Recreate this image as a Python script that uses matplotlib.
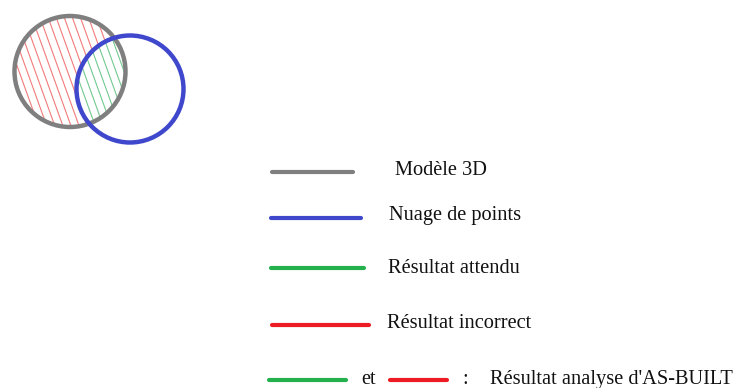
import numpy as np
import matplotlib.pyplot as plt
from matplotlib.patches import Circle

# legende
labels = ['Modèle 3D', 'Nuage de points', 'Résultat attendu', 'Résultat incorrect']
colors = ['#7f7f7f', '#3f48cc', '#22b14c', '#ed1c24']
last_parts = ['et', ':', "Résultat analyse d'AS-BUILT"]

plt.rcParams['font.family'] = ['Liberation Serif', 'DejaVu Serif']

fig = plt.figure(figsize=(7.37, 3.88), dpi=100)
ax = fig.add_axes([0, 0, 1, 1])
ax.set_xlim(0, 737)
ax.set_ylim(388, 0)
ax.axis('off')

# cercles (modele gris, nuage bleu)
c1, r1 = np.array([70.0, 71.5]), 55.5
c2, r2 = np.array([130.0, 89.0]), 53.5

# hachures : rouge dans le modele, vert dans l'intersection
d = np.array([0.36, 1.0])
d = d / np.linalg.norm(d)
n = np.array([d[1], -d[0]])
for off in np.arange(-r1, r1, 7.6):
    p0 = c1 + n * off
    # intersection droite / cercle gris
    b = np.dot(p0 - c1, d)
    cc = np.dot(p0 - c1, p0 - c1) - r1 ** 2
    disc = b * b - cc
    if disc <= 0:
        continue
    t = np.linspace(-b - np.sqrt(disc), -b + np.sqrt(disc), 200)
    pts = p0[None, :] + t[:, None] * d[None, :]
    inside = np.linalg.norm(pts - c2, axis=1) < r2
    red = np.where(inside, np.nan, pts[:, 1])
    grn = np.where(inside, pts[:, 1], np.nan)
    ax.plot(pts[:, 0], red, color='#f27a7a', lw=0.8, zorder=1)
    ax.plot(pts[:, 0], grn, color='#72c98f', lw=0.8, zorder=1)

ax.add_patch(Circle(c1, r1, fill=False, ec=colors[0], lw=3.2, zorder=2))
ax.add_patch(Circle(c2, r2, fill=False, ec=colors[1], lw=3.2, zorder=3))

# lignes de legende
line_x = [(272, 353), (271, 361), (271, 364), (272, 369)]
line_y = [172, 218, 268, 325]
text_x = [395, 389, 388, 387]
text_y = [175, 220, 273, 328]
for lab, col, (xa, xb), ly, tx, ty in zip(labels, colors, line_x, line_y, text_x, text_y):
    ax.plot([xa, xb], [ly, ly], color=col, lw=3, solid_capstyle='round')
    ax.text(tx, ty, lab, fontsize=14.7, va='baseline', ha='left', color='#111111')

ax.plot([269, 346], [380, 380], color=colors[2], lw=3, solid_capstyle='round')
ax.plot([390, 447], [380, 380], color=colors[3], lw=3, solid_capstyle='round')
for s, tx in zip(last_parts, [361, 462, 490]):
    ax.text(tx, 384, s, fontsize=14.7, va='baseline', ha='left', color='#111111')

fig.savefig('out.png', dpi=100)
